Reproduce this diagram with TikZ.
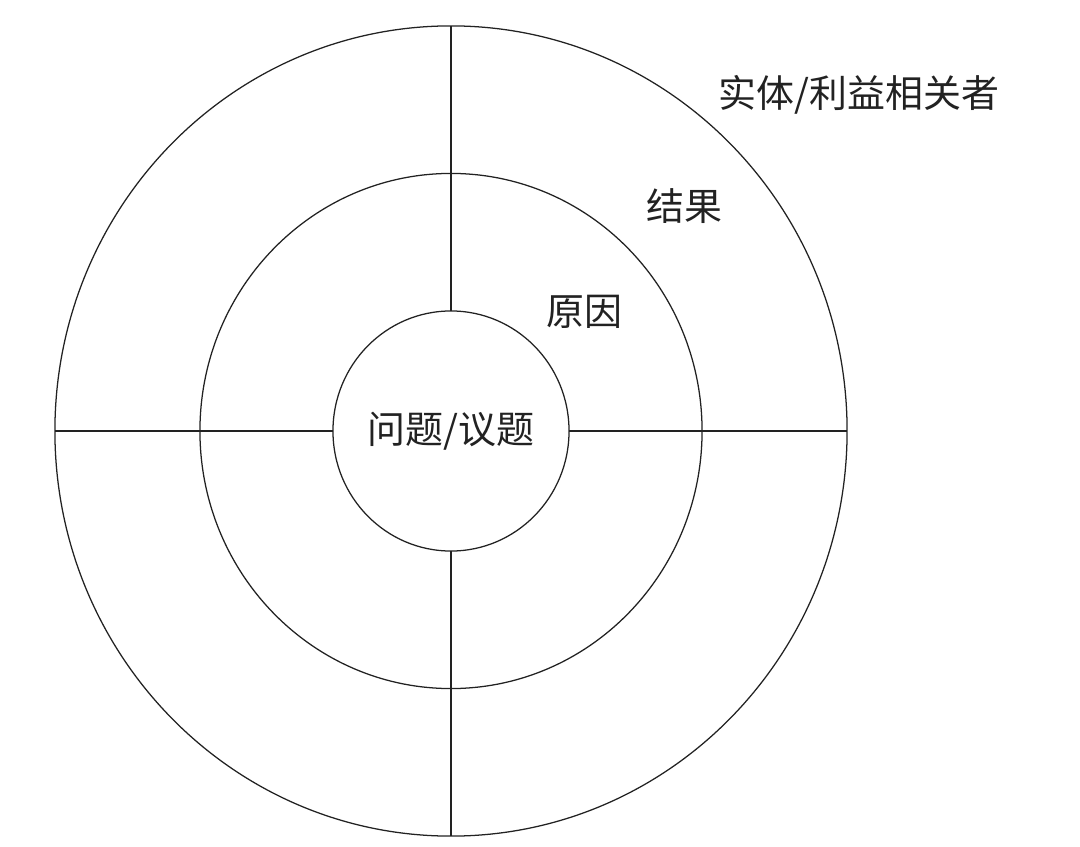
\documentclass[tikz,border=0pt]{standalone}
\usepackage{fontspec}
\newfontfamily\cjk{Noto Sans CJK SC}
\usetikzlibrary{shapes.geometric}
\definecolor{ink}{HTML}{222222}

\begin{document}
\begin{tikzpicture}[x=0.025cm,y=-0.025cm,line width=0.9pt,draw=ink,
  ring/.style={ellipse,draw,inner sep=0pt,outer sep=0pt},
  lbl/.style={text=ink,font=\cjk\fontsize{27}{32}\selectfont}]
  \useasboundingbox (0,0) rectangle (1080,847);

  \node[ring,minimum width=19.8cm,minimum height=20.25cm] (stake) at (451,431) {};   %Outer ring
  \node[ring,minimum width=12.55cm,minimum height=12.875cm] (cause) at (451,431) {}; %Middle ring
  \node[ring,minimum width=5.9cm,minimum height=6cm,lbl] (issue) at (451,431) {问题/议题}; %Core

  \draw (issue.north) -- (stake.north) ;  %Upper spoke
  \draw (issue.south) -- (stake.south) ;  %Lower spoke
  \draw (issue.west) -- (stake.west) ;    %Left spoke
  \draw (issue.east) -- (stake.east) ;    %Right spoke

  \node[lbl] (stakelbl) at (859,95) {实体/利益相关者};
  \node[lbl] (effectlbl) at (684,206) {结果};
  \node[lbl] (causelbl) at (584,312) {原因};
\end{tikzpicture}
\end{document}
